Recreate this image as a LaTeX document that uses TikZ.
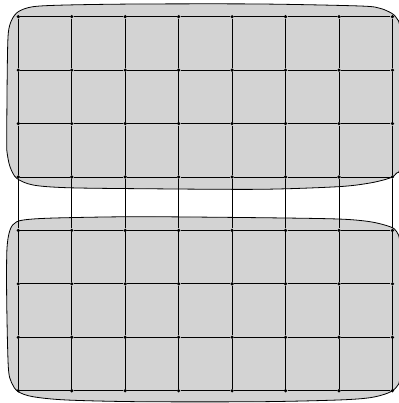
\documentclass[tikz,border=0pt]{standalone}
\usepackage{tikz}
\usepackage{xcolor}
\definecolor{blobgray}{RGB}{211,211,211}

\begin{document}
\begin{tikzpicture}[x=1pt,y=-1pt,
  dot/.style={circle,fill=black,inner sep=0pt,minimum size=3.6pt},
  edge/.style={draw=black,line width=0.8pt},
  blob/.style={fill=blobgray,draw=black,line width=0.8pt}]
\useasboundingbox (0,0) rectangle (398,403);
% upper group
\draw[blob] plot[smooth cycle,tension=0.5] coordinates {
  (6.7,140) (7.3,66.7) (8.3,33) (11.7,20) (18.3,11.7) (33,6.7) (66.7,5)
  (140,4) (260,4) (360,6) (380,8.3) (391.7,13.3) (396.7,18.3) (400,30)
  (401,97) (400,165) (396.7,173) (390,178) (370,183) (338,186.7) (260,189.3)
  (140,188.7) (66.7,187.7) (33,185) (16.7,178.3) (10,166.7) (7,152)};
% lower group
\draw[blob] plot[smooth cycle,tension=0.5] coordinates {
  (6.7,300) (6.9,250) (10,230) (16.7,221.7) (33,219) (66.7,217.7) (140,216.7)
  (260,217.7) (338,219) (370,221.7) (390,226.7) (396.7,231.7) (400,245)
  (401,310) (400,375) (396.7,386.7) (388,393) (370,397.7) (338,400)
  (260,401.7) (140,401.7) (66.7,400) (33,396.7) (18.3,391.7) (11.7,383)
  (8.3,366.7)};
% vertices
\foreach \i in {0,...,7}
  \foreach \j in {0,...,7}
    \node[dot] (s\i\j) at (18.3+53.45*\i,16.7+53.43*\j) {};
% edges
\foreach \i in {0,...,7}
  \foreach \j [count=\k] in {0,...,6}
    {\draw[edge] (s\i\j) -- (s\i\k);
     \draw[edge] (s\j\i) -- (s\k\i);}
\end{tikzpicture}
\end{document}
